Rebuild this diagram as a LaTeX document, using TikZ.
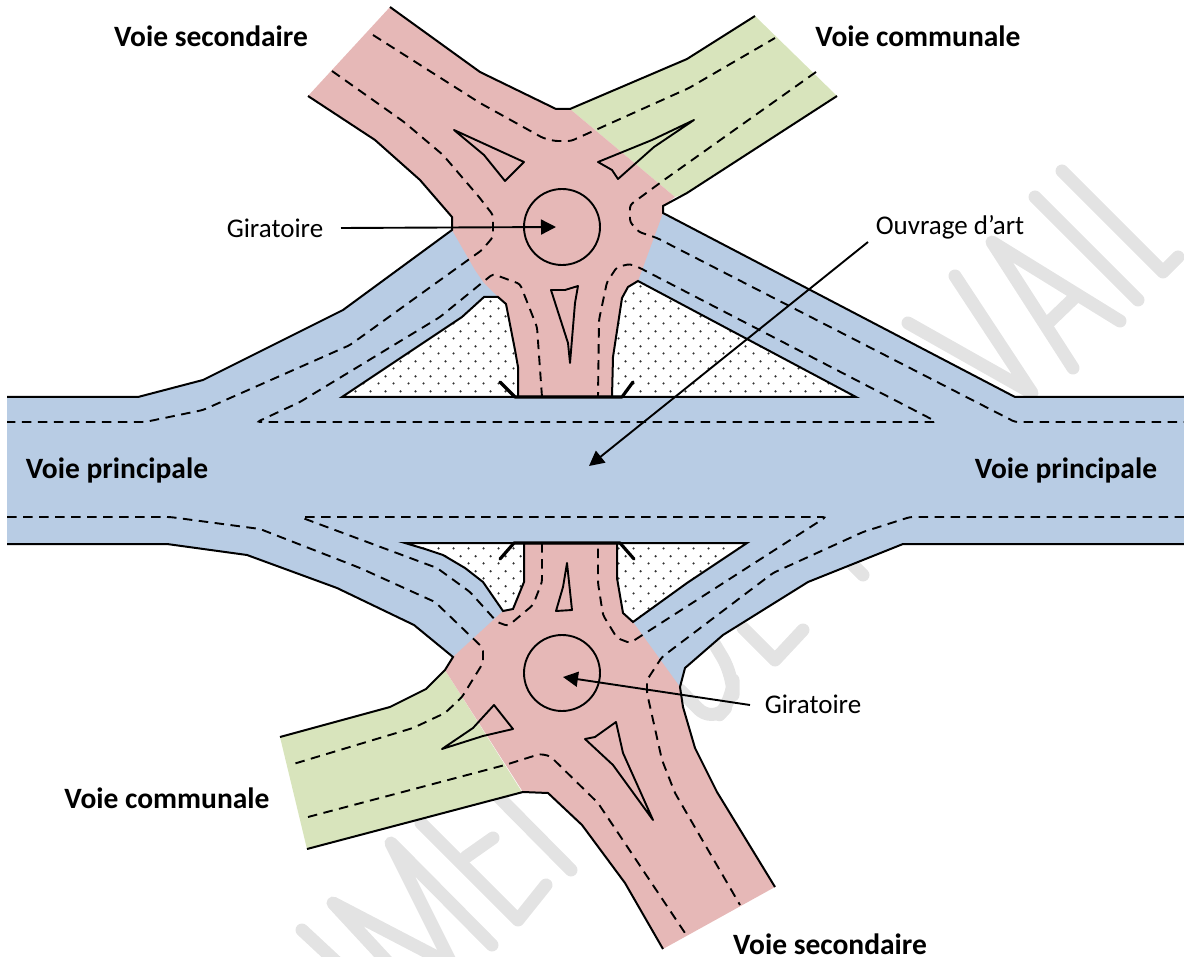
\documentclass[tikz,border=0pt]{standalone}
\usepackage{fontspec}
\setmainfont{Carlito}
\usetikzlibrary{arrows.meta,patterns}
\definecolor{roadblue}{HTML}{B8CCE4}
\definecolor{roadred}{HTML}{E6B8B7}
\definecolor{roadgreen}{HTML}{D8E4BC}
\definecolor{wm}{HTML}{E3E3E3}
\pgfdeclarepatternformonly{roaddots}{\pgfqpoint{0pt}{0pt}}{\pgfqpoint{15pt}{15pt}}{\pgfqpoint{15pt}{15pt}}{%
  \pgfpathcircle{\pgfqpoint{3.75pt}{3.75pt}}{1.3pt}%
  \pgfpathcircle{\pgfqpoint{11.25pt}{11.25pt}}{1.3pt}%
  \pgfusepath{fill}}
\tikzset{
  x=1pt,y=-1pt,
  mark stroke/.style={draw=wm,line width=13pt,line cap=round,line join=round},
  edge line/.style={draw=black,line width=2pt,line join=miter},
  lane line/.style={draw=black,line width=1.9pt,dash pattern=on 9.5pt off 6.5pt,rounded corners=3pt},
  island/.style={draw=black,line width=1.9pt,line join=round},
  bridge/.style={draw=black,line width=3.2pt,line cap=round,line join=round},
  callout/.style={draw=black,line width=1.9pt,-{Triangle[length=15pt,width=15pt]}},
  plainlabel/.style={inner sep=0pt,font=\fontsize{27}{29}\selectfont,text=black},
  roadlabel/.style={inner sep=0pt,font=\fontsize{29.5}{31}\selectfont\bfseries,text=black},
}
\begin{document}
\begin{tikzpicture}
\useasboundingbox (0,0) rectangle (1184,957);
% watermark
\draw[mark stroke] (1062,171) -- (1163,272) -- (1178,257);
\draw[mark stroke] (1035,197) -- (1138,300);
\draw[mark stroke] (1073,368) -- (992,242) -- (1120,321);
\draw[mark stroke] (1048,323) -- (1075,297);
\draw[mark stroke] (955,276) -- (1032,393) -- (908,323);
\draw[mark stroke] (480,778) -- (571,870);
\draw[mark stroke] (421,823) -- (518,920) -- (546,885);
\draw[mark stroke] (466,857) -- (493,838);
\draw[mark stroke] (492,945) -- (391,843) -- (452,965);
\draw[mark stroke] (452,965) -- (333,903) -- (395,970);
\draw[mark stroke] (302,930) -- (345,970);
\draw[mark stroke] (743,628) -- (775,660) -- (803,630);
\draw[mark stroke] (853,565) -- (863,575);
\draw[mark stroke,rounded corners=20pt] (712,640) -- (733,675) -- (733,700) -- (712,723) -- (680,690);
% road surfaces
\fill[roadblue] (7,397) -- (138,397) -- (203,380) -- (343,310) -- (452,230) -- (663,213) -- (1015,397) -- (1184,397) -- (1184,544) -- (903,544) -- (808,582) -- (723,635) -- (685,668) -- (680,687) -- (453,657) -- (414,625) -- (337,588) -- (247,555) -- (167,544) -- (7,544) -- cycle;
% islands between carriageways
\path[fill=white] (342,397) -- (462,317) -- (484,297) -- (498,297) -- (506,304) -- (515,350) -- (518,367) -- (518,397) -- (612,397) -- (613,357) -- (622,298) -- (628,287) -- (638,281) -- (856,397) -- cycle;
\path[pattern=roaddots,pattern color=black!80] (342,397) -- (462,317) -- (484,297) -- (498,297) -- (506,304) -- (515,350) -- (518,367) -- (518,397) -- (612,397) -- (613,357) -- (622,298) -- (628,287) -- (638,281) -- (856,397) -- cycle;
\path[fill=white] (405,543) -- (425,549) -- (443,555) -- (465,568) -- (483,582) -- (503,611) -- (513,609) -- (524,582) -- (524,543) -- cycle;
\path[pattern=roaddots,pattern color=black!80] (405,543) -- (425,549) -- (443,555) -- (465,568) -- (483,582) -- (503,611) -- (513,609) -- (524,582) -- (524,543) -- cycle;
\path[fill=white] (617,543) -- (617,578) -- (623,613) -- (633,622) -- (687,583) -- (747,543) -- cycle;
\path[pattern=roaddots,pattern color=black!80] (617,543) -- (617,578) -- (623,613) -- (633,622) -- (687,583) -- (747,543) -- cycle;
% green and red
\fill[roadgreen] (570,109) -- (687,59) -- (755,16) -- (837,96) -- (687,193) -- (675,197) -- cycle;
\fill[roadgreen] (445,670) -- (426,689) -- (390,707) -- (280,737) -- (307,849) -- (522,792) -- cycle;
\fill[roadred] (390,7) -- (480,72) -- (556,109) -- (570,109) -- (675,197) -- (663,206) -- (663,213) -- (638,281) -- (628,287) -- (622,298) -- (613,357) -- (612,397) -- (518,397) -- (518,367) -- (515,350) -- (506,304) -- (498,297) -- (484,283) -- (475,270) -- (452,230) -- (452,217) -- (420,180) -- (375,140) -- (308,96) -- cycle;
\fill[roadred] (524,543) -- (617,543) -- (617,578) -- (623,613) -- (633,622) -- (680,687) -- (683,707) -- (695,748) -- (717,792) -- (775,887) -- (663,949) -- (625,883) -- (582,825) -- (548,793) -- (523,792) -- (445,670) -- (453,657) -- (503,611) -- (513,609) -- (524,582) -- cycle;
% road edges
\draw[edge line] (390,7) -- (480,72) -- (556,109) -- (570,109) -- (687,59) -- (755,16);
\draw[edge line] (308,96) -- (375,140) -- (420,180) -- (452,217) -- (452,230) -- (343,310) -- (203,380) -- (138,397) -- (7,397);
\draw[edge line] (837,96) -- (687,193) -- (663,206) -- (663,213) -- (1015,397) -- (1184,397);
\draw[edge line] (518,397) -- (518,367) -- (515,350) -- (506,304) -- (498,297) -- (484,297) -- (462,317) -- (342,397) -- (856,397) -- (638,281) -- (628,287) -- (622,298) -- (613,357) -- (612,397);
\draw[edge line] (7,544) -- (167,544) -- (247,555) -- (337,588) -- (414,625) -- (453,657) -- (445,670) -- (426,689) -- (390,707) -- (280,737);
\draw[edge line] (307,849) -- (523,792) -- (548,793) -- (582,825) -- (625,883) -- (663,949);
\draw[edge line] (775,887) -- (717,792) -- (695,748) -- (683,707) -- (680,687) -- (685,668) -- (723,635) -- (808,582) -- (903,544) -- (1184,544);
\draw[edge line] (524,543) -- (524,582) -- (513,609) -- (503,611) -- (483,582) -- (465,568) -- (443,555) -- (425,549) -- (405,543) -- (747,543) -- (687,583) -- (633,622) -- (623,613) -- (617,578) -- (617,543);
% lane markings
\draw[lane line] (373,35) -- (480,103) -- (543,138) -- (555,141) -- (571,141) -- (600,128) -- (689,88) -- (775,38);
\draw[lane line] (332,71) -- (404,122) -- (443,155) -- (479,197) -- (493,215) -- (493,237) -- (482,250) -- (443,278) -- (350,345) -- (203,410) -- (145,422) -- (7,422);
\draw[lane line] (816,72) -- (664,180) -- (630,205) -- (630,222) -- (639,232) -- (657,238) -- (1015,422) -- (1184,422);
\draw[lane line] (542,397) -- (537,327) -- (520,284) -- (493,274) -- (483,282) -- (440,317) -- (300,402) -- (257,422) -- (937,422) -- (640,268) -- (630,264) -- (617,267) -- (607,282) -- (599,320) -- (598,397);
\draw[lane line] (7,517) -- (170,517) -- (260,529) -- (360,568) -- (435,602) -- (483,648) -- (483,663) -- (462,697) -- (445,713) -- (413,728) -- (290,765);
\draw[lane line] (542,543) -- (542,582) -- (533,605) -- (508,626) -- (497,622) -- (470,592) -- (437,568) -- (300,517) -- (826,517) -- (630,643) -- (617,638) -- (603,615) -- (598,583) -- (598,543);
\draw[lane line] (1184,517) -- (910,517) -- (863,532) -- (773,573) -- (662,657) -- (647,680) -- (647,693) -- (662,760) -- (675,793) -- (740,905);
\draw[lane line] (308,817) -- (505,765) -- (540,754) -- (550,756) -- (598,803) -- (685,933);
% traffic islands
\draw[island] (454,130) -- (524,162) -- (505,181) -- (484,155) -- cycle;
\draw[island] (694,120) -- (652,140) -- (598,162) -- (612,170) -- (618,179) -- (654,147) -- cycle;
\draw[island] (551,290) -- (565,290) -- (578,286) -- (575,303) -- (570,363) -- (568,343) -- cycle;
\draw[island] (567,563) -- (572,610) -- (556,611) -- (563,587) -- cycle;
\draw[island] (442,749) -- (473,728) -- (494,705) -- (513,729) -- (483,736) -- cycle;
\draw[island] (616,722) -- (623,753) -- (653,820) -- (613,765) -- (585,739) -- (595,737) -- cycle;
% roundabouts
\node[draw=black,line width=1.9pt,circle,minimum size=76pt,inner sep=0pt] (topring) at (562,227) {};
\node[draw=black,line width=1.9pt,circle,minimum size=76pt,inner sep=0pt] (botring) at (562,673) {};
% bridge parapets
\draw[bridge] (500,382) -- (515,397) -- (622,397) -- (633,382);
\draw[bridge] (500,559) -- (514,543) -- (620,543) -- (634,559);
% labels
\node[roadlabel] (vsec1) at (211,36) {Voie secondaire};
\node[roadlabel] (vcom1) at (918,36) {Voie communale};
\node[plainlabel] (gir1) at (275,228) {Giratoire};
\node[plainlabel] (ouv) at (950,227) {Ouvrage d’art};
\node[roadlabel] (vpr1) at (117,470) {Voie principale};
\node[roadlabel] (vpr2) at (1066,470) {Voie principale};
\node[plainlabel] (gir2) at (813,704) {Giratoire};
\node[roadlabel] (vcom2) at (167,798) {Voie communale};
\node[roadlabel,anchor=base] (vsec2) at (830,954) {Voie secondaire};
% callouts
\coordinate (t1) at (556,227);
\coordinate (s1) at (341,228);
\coordinate (t2) at (563,677);
\coordinate (s2) at (750,705);
\coordinate (t3) at (589,466);
\coordinate (s3) at (868,242);
\draw[callout] (s1) -- (t1);
\draw[callout] (s2) -- (t2);
\draw[callout] (s3) -- (t3);
\end{tikzpicture}
\end{document}
